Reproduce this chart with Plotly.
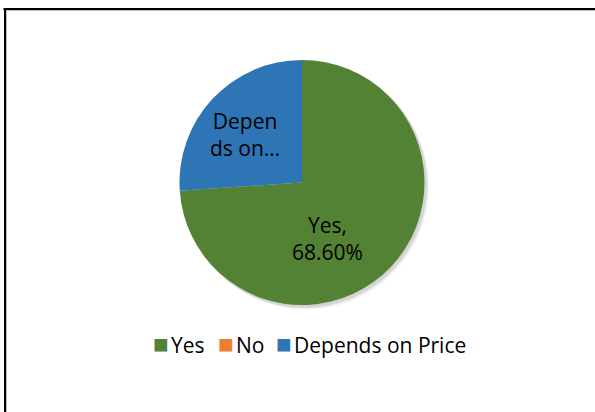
import plotly.graph_objects as go

# Survey answers and their shares (percent)
categories = ["Yes", "No", "Depends on Price"]
values = [68.60, 0.0, 24.2]
slice_labels = ["Yes,<br>68.60%", "", "Depen<br>ds on…"]
colors = ["#548235", "#ED7D31", "#2E75B6"]

W, H = 595, 412
cx, cy, r = 302, 182.5, 122.5  # pie centre / radius in pixels


def dom(cx, cy, r):
    return dict(x=[(cx - r) / W, (cx + r) / W],
                y=[1 - (cy + r) / H, 1 - (cy - r) / H])


fig = go.Figure()

# soft drop shadow under the pie
for off, alpha in [(4, 0.04), (3, 0.06), (2, 0.08)]:
    fig.add_trace(go.Pie(
        values=[1], labels=["shadow"], marker=dict(colors=[f"rgba(0,0,0,{alpha})"]),
        domain=dom(cx + off, cy + off, r + 0.5), textinfo="none", hoverinfo="skip",
        showlegend=False, sort=False))

fig.add_trace(go.Pie(
    labels=categories,
    values=values,
    marker=dict(colors=colors, line=dict(width=0)),
    sort=False,
    direction="clockwise",
    rotation=0,
    textinfo="none",
    hoverinfo="label+value",
    showlegend=False,
    domain=dom(cx, cy, r),
))

# slice labels, placed inside their slices
label_pos = {0: (327, 238), 2: (245, 134)}
for i, (px, py) in label_pos.items():
    fig.add_annotation(
        x=px / W, y=1 - py / H, xref="paper", yref="paper",
        text=slice_labels[i], showarrow=False,
        font=dict(family="Open Sans", size=21, color="#000000"),
        align="center", xanchor="center", yanchor="middle",
    )

# legend row: coloured square + category name for each answer
legend_x = [151, 216, 274]
for name, col, lx in zip(categories, colors, legend_x):
    fig.add_annotation(
        x=lx / W, y=1 - 343 / H, xref="paper", yref="paper",
        text=(f"<span style='color:{col};font-size:26px'>■</span>"
              f"<span style='font-size:9px'> </span>{name}"),
        showarrow=False, xanchor="left", yanchor="middle",
        font=dict(family="Open Sans", size=21, color="#000000"),
    )

# chart frame
fig.add_shape(type="line", xref="paper", yref="paper",
              x0=4 / W, x1=1.05, y0=1 - 10.5 / H, y1=1 - 10.5 / H,
              line=dict(color="#BDBDBD", width=1))
fig.add_shape(type="line", xref="paper", yref="paper",
              x0=6.5 / W, x1=6.5 / W, y0=1 - 8 / H, y1=-0.05,
              line=dict(color="#BDBDBD", width=1))
fig.add_shape(type="line", xref="paper", yref="paper",
              x0=3.5 / W, x1=1.05, y0=1 - 9 / H, y1=1 - 9 / H,
              line=dict(color="#000000", width=2))
fig.add_shape(type="line", xref="paper", yref="paper",
              x0=5 / W, x1=5 / W, y0=1 - 8 / H, y1=-0.05,
              line=dict(color="#000000", width=2))

fig.update_layout(
    width=W, height=H,
    margin=dict(l=0, r=0, t=0, b=0),
    paper_bgcolor="white",
    plot_bgcolor="white",
    font=dict(family="Open Sans", color="#000000"),
    showlegend=False,
)

fig.write_html("out.html")
